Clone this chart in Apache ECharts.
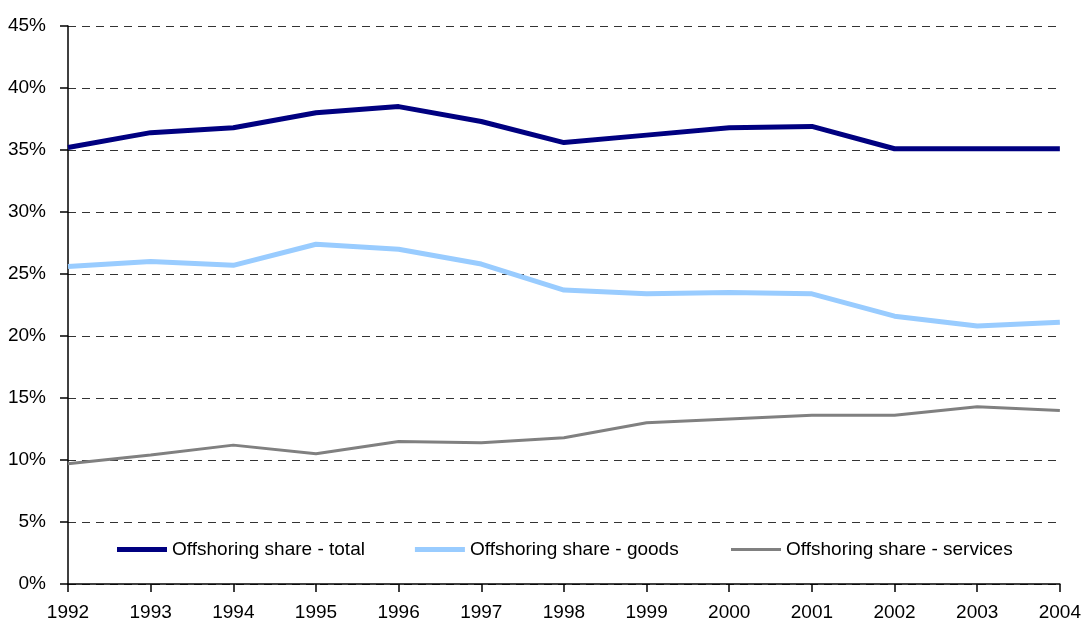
<!DOCTYPE html>
<html>
<head>
<meta charset="utf-8">
<script src="https://cdn.jsdelivr.net/npm/echarts@6/dist/echarts.min.js"></script>
<style>
  html, body { margin: 0; padding: 0; background: #fff; }
  #chart { width: 1084px; height: 626px; }
</style>
</head>
<body>
<div id="chart"></div>
<script>
const years = ['1992', '1993', '1994', '1995', '1996', '1997', '1998', '1999', '2000', '2001', '2002', '2003', '2004']
const totalShare = [35.2, 36.4, 36.8, 38.0, 38.5, 37.3, 35.6, 36.2, 36.8, 36.9, 35.1, 35.1, 35.1]
const goodsShare = [25.6, 26.0, 25.7, 27.4, 27.0, 25.8, 23.7, 23.4, 23.5, 23.4, 21.6, 20.8, 21.1]
const servicesShare = [9.7, 10.4, 11.2, 10.5, 11.5, 11.4, 11.8, 13.0, 13.3, 13.6, 13.6, 14.3, 14.0]

const names = ['Offshoring share - total', 'Offshoring share - goods', 'Offshoring share - services']
const font = '"Liberation Sans Narrow", "Arial Narrow", "Liberation Sans", sans-serif'

const legendBase = {
  top: 535,
  itemWidth: 50,
  itemGap: 50,
  icon: 'rect',
  textStyle: { fontFamily: font, fontSize: 19, color: '#000' },
}

const myChart = echarts.init(document.getElementById('chart'))
myChart.setOption({
  animation: false,
  textStyle: { fontFamily: font },
  legend: [
    { ...legendBase, left: 112, itemHeight: 5, data: [names[0], names[1]] },
    { ...legendBase, left: 726, itemHeight: 3, data: [names[2]] },
  ],
  grid: { left: 68, right: 22, top: 26, bottom: 42 },
  xAxis: {
    type: 'category',
    boundaryGap: false,
    data: years,
    axisLine: { lineStyle: { color: '#000', width: 1.5 } },
    axisTick: { show: true, length: 8, lineStyle: { color: '#000', width: 1.5 } },
    axisLabel: { color: '#000', fontSize: 19, margin: 19, fontFamily: font },
    splitLine: { show: false },
  },
  yAxis: {
    type: 'value',
    min: 0,
    max: 45,
    interval: 5,
    axisLine: { show: true, lineStyle: { color: '#000', width: 1.5 } },
    axisTick: { show: true, length: 8, lineStyle: { color: '#000', width: 1.5 } },
    axisLabel: { color: '#000', fontSize: 19, margin: 22, fontFamily: font, formatter: '{value}%' },
    splitLine: { lineStyle: { color: '#333', type: [8, 6], width: 1 } },
  },
  series: [
    { name: names[0], data: totalShare, color: '#000080', lineStyle: { width: 5 } },
    { name: names[1], data: goodsShare, color: '#99ccff', lineStyle: { width: 5 } },
    { name: names[2], data: servicesShare, color: '#808080', lineStyle: { width: 3 } },
  ].map((s) => ({
    ...s,
    type: 'line',
    symbol: 'none',
    z: 3,
  })),
})
</script>
</body>
</html>
